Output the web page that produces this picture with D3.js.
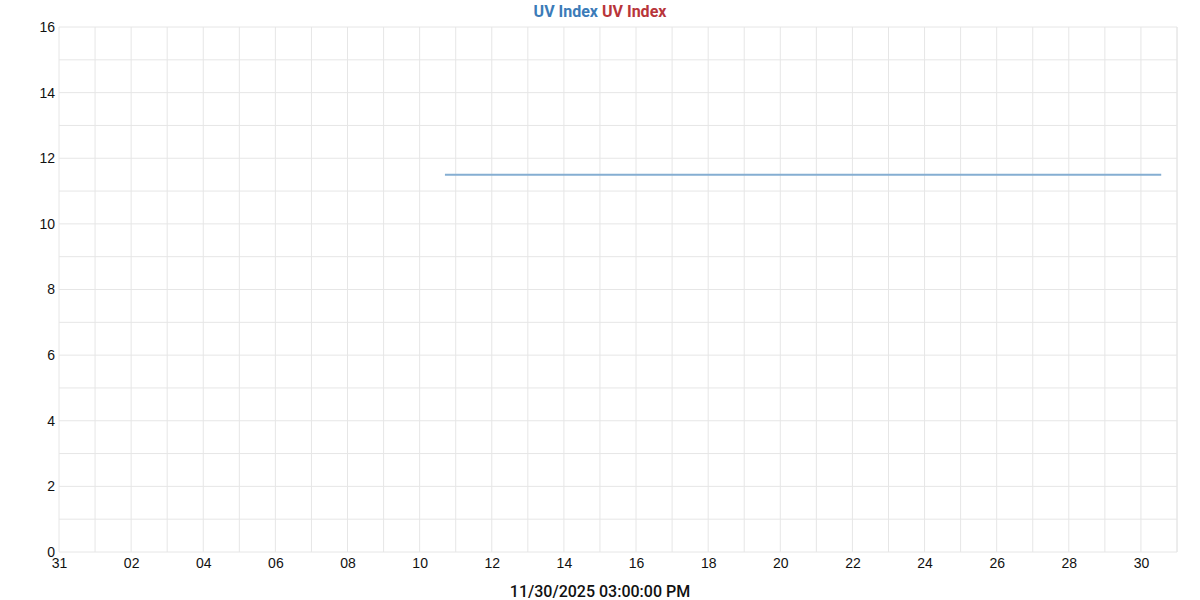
<!DOCTYPE html>
<html>
<head>
<meta charset="utf-8">
<script src="https://cdn.jsdelivr.net/npm/d3@7"></script>
<style>
  body { margin: 0; background: #fff; }
  svg { font-family: Roboto, sans-serif; }
</style>
</head>
<body>
<div id="chart"></div>
<script>
// data
var times = ["2025-11-10T16:50:00", "2025-11-30T13:30:00"];
var uvIndex = [11.5, 11.5];
var yTicks = [0, 2, 4, 6, 8, 10, 12, 14, 16];
var titleParts = ["UV Index", "UV Index"];
var xLabel = "11/30/2025 03:00:00 PM";

var width = 1200, height = 600;
var margin = {top: 27, right: 23, bottom: 48, left: 59};
var w = width - margin.left - margin.right;
var h = height - margin.top - margin.bottom;

var parse = d3.timeParse("%Y-%m-%dT%H:%M:%S");
var data = times.map(function(t, i) { return {t: parse(t), v: uvIndex[i]}; });

var svg = d3.select("#chart").append("svg")
  .attr("width", width)
  .attr("height", height);

var g = svg.append("g")
  .attr("transform", "translate(" + margin.left + "," + margin.top + ")");

var x = d3.scaleTime()
  .domain([new Date(2025, 9, 31), new Date(2025, 11, 1)])
  .range([0, w]);
var y = d3.scaleLinear().domain([0, 16]).range([h, 0]);

// grid - every day, every unit
g.append("g").selectAll("line")
  .data(x.ticks(d3.timeDay.every(1)))
  .enter().append("line")
    .attr("x1", function(d) { return x(d); })
    .attr("x2", function(d) { return x(d); })
    .attr("y1", 0).attr("y2", h)
    .style("stroke", "#e6e6e6");

g.append("g").selectAll("line")
  .data(d3.range(0, 17))
  .enter().append("line")
    .attr("x1", 0).attr("x2", w)
    .attr("y1", function(d) { return y(d); })
    .attr("y2", function(d) { return y(d); })
    .style("stroke", "#e6e6e6");

g.append("line").attr("x1", w).attr("x2", w).attr("y1", 0).attr("y2", h)
  .style("stroke", "#e6e6e6");

// axes
var yAxis = g.append("g")
  .call(d3.axisLeft(y).tickValues(yTicks).tickSize(0).tickPadding(4));
yAxis.select(".domain").remove();
yAxis.selectAll("text").style("font-size", "14px").style("fill", "#111");

var xTickDates = d3.range(0, 32, 2).map(function(i) { return d3.timeDay.offset(new Date(2025, 9, 31), i); });
var xAxis = g.append("g")
  .attr("transform", "translate(0," + h + ")")
  .call(d3.axisBottom(x).tickValues(xTickDates).tickFormat(d3.timeFormat("%d")).tickSize(0).tickPadding(6));
xAxis.select(".domain").remove();
xAxis.selectAll("text").style("font-size", "14px").style("fill", "#111");

// the series
var line = d3.line()
  .x(function(d) { return x(d.t); })
  .y(function(d) { return y(d.v); });

g.append("path")
  .datum(data)
  .attr("d", line)
  .style("fill", "none")
  .style("stroke", "#85aed2")
  .style("stroke-width", 2);

// title
var title = svg.append("text")
  .attr("x", width / 2)
  .attr("y", 17)
  .attr("text-anchor", "middle")
  .style("font-size", "16px")
  .style("font-weight", "bold");
title.append("tspan").style("fill", "#3b7bb8").text(titleParts[0]);
title.append("tspan").style("fill", "#b8353a").text(" " + titleParts[1]);

// x label
svg.append("text")
  .attr("x", width / 2)
  .attr("y", 597)
  .attr("text-anchor", "middle")
  .style("font-size", "16px")
  .style("font-weight", 500)
  .style("fill", "#111")
  .text(xLabel);
</script>
</body>
</html>
